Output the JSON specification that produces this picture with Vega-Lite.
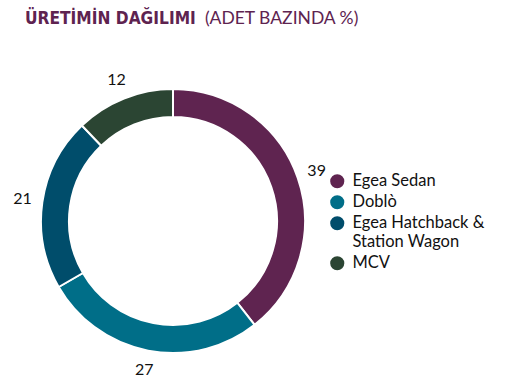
{
  "$schema": "https://vega.github.io/schema/vega-lite/v6.json",
  "autosize": {"type": "none"},
  "width": 264,
  "height": 264,
  "padding": {"left": 41, "top": 89, "right": 222, "bottom": 39},
  "background": "white",
  "title": {
    "text": "ÜRETİMİN DAĞILIMI",
    "subtitle": "\u200b\u2003\u2003\u2003\u2003\u2003\u2003\u2003\u2003\u2003\u2003\u2003\u2003\u00a0\u00a0\u00a0\u00a0\u00a0(ADET BAZINDA %)",
    "anchor": "start",
    "frame": "group",
    "dx": -16,
    "offset": 44,
    "font": "DejaVu Sans Condensed, Roboto",
    "fontSize": 17.2,
    "fontWeight": "bold",
    "color": "#5e2350",
    "subtitleFont": "Lato",
    "subtitleFontSize": 17.5,
    "subtitleColor": "#5e2350",
    "subtitlePadding": -16.5
  },
  "data": {
    "values": [
      {"model": "Egea Sedan", "pay": 39, "sira": 1},
      {"model": "Doblò", "pay": 27, "sira": 2},
      {"model": "Egea Hatchback & Station Wagon", "pay": 21, "sira": 3},
      {"model": "MCV", "pay": 12, "sira": 4}
    ]
  },
  "encoding": {
    "theta": {"field": "pay", "type": "quantitative", "stack": true},
    "order": {"field": "sira", "type": "quantitative"},
    "color": {
      "field": "model",
      "type": "nominal",
      "scale": {
        "domain": ["Egea Sedan", "Doblò", "Egea Hatchback & Station Wagon", "MCV"],
        "range": ["#5f2450", "#006e88", "#004d6b", "#2b4533"]
      },
      "legend": {
        "title": null,
        "orient": "none",
        "legendX": 288,
        "legendY": 84,
        "symbolType": "circle",
        "symbolSize": 200,
        "symbolStrokeWidth": 0,
        "symbolOpacity": 1,
        "labelFont": "Lato",
        "labelFontSize": 16.5,
        "labelColor": "#111111",
        "labelOffset": 7,
        "labelLimit": 300,
        "rowPadding": 4,
        "padding": 0,
        "labelExpr": "datum.label == 'Egea Hatchback & Station Wagon' ? ['Egea Hatchback &', 'Station Wagon'] : datum.label"
      }
    }
  },
  "layer": [
    {
      "mark": {"type": "arc", "innerRadius": 104, "outerRadius": 132, "stroke": "white", "strokeWidth": 2}
    },
    {
      "mark": {"type": "text", "radius": 152, "font": "Lato", "fontSize": 16, "color": "#111111"},
      "encoding": {
        "text": {"field": "pay", "type": "quantitative"},
        "color": {"value": "#111111"}
      }
    }
  ]
}
